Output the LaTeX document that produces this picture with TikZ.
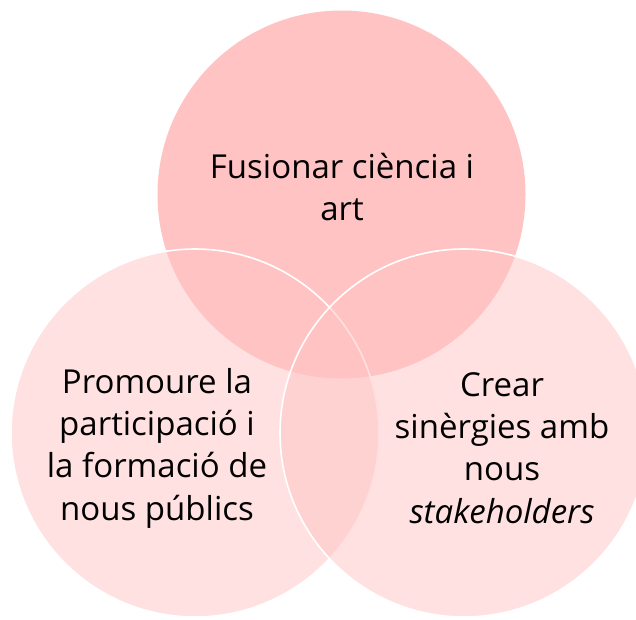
\documentclass[tikz,border=0pt]{standalone}
\usepackage{fontspec}
\setmainfont{Open Sans}
\usetikzlibrary{positioning}
\definecolor{rosa}{RGB}{255,195,195}
\tikzset{
cercle/.style={
  circle,
  minimum size=368pt,
  inner sep=0pt,
  fill=rosa
  },
vora/.style={draw=white, line width=1.6pt, fill opacity=0.5},
etiqueta/.style={
  align=center,
  text=black,
  font=\fontsize{33}{42.3}\selectfont
  }
}
\begin{document}
\begin{tikzpicture}[x=1pt,y=-1pt]
  \useasboundingbox (0,0) rectangle (636,619);
  \clip (0,0) rectangle (636,619);

  \node[cercle] (art) at (341.5,194.5) {};
  \node[cercle,vora] (public) at (195,433) {};
  \node[cercle,vora] (sinergia) at (464,433) {};

  \node[etiqueta] (tart) at (342,187) {Fusionar ciència i\\art};
  \node[etiqueta] (tpublic) at (157,448) {Promoure la\\participació i\\la formació de\\nous públics};
  \node[etiqueta] (tsinergia) at (502,448) {Crear\\sinèrgies amb\\nous\\\textit{stakeholders}};
\end{tikzpicture}
\end{document}
